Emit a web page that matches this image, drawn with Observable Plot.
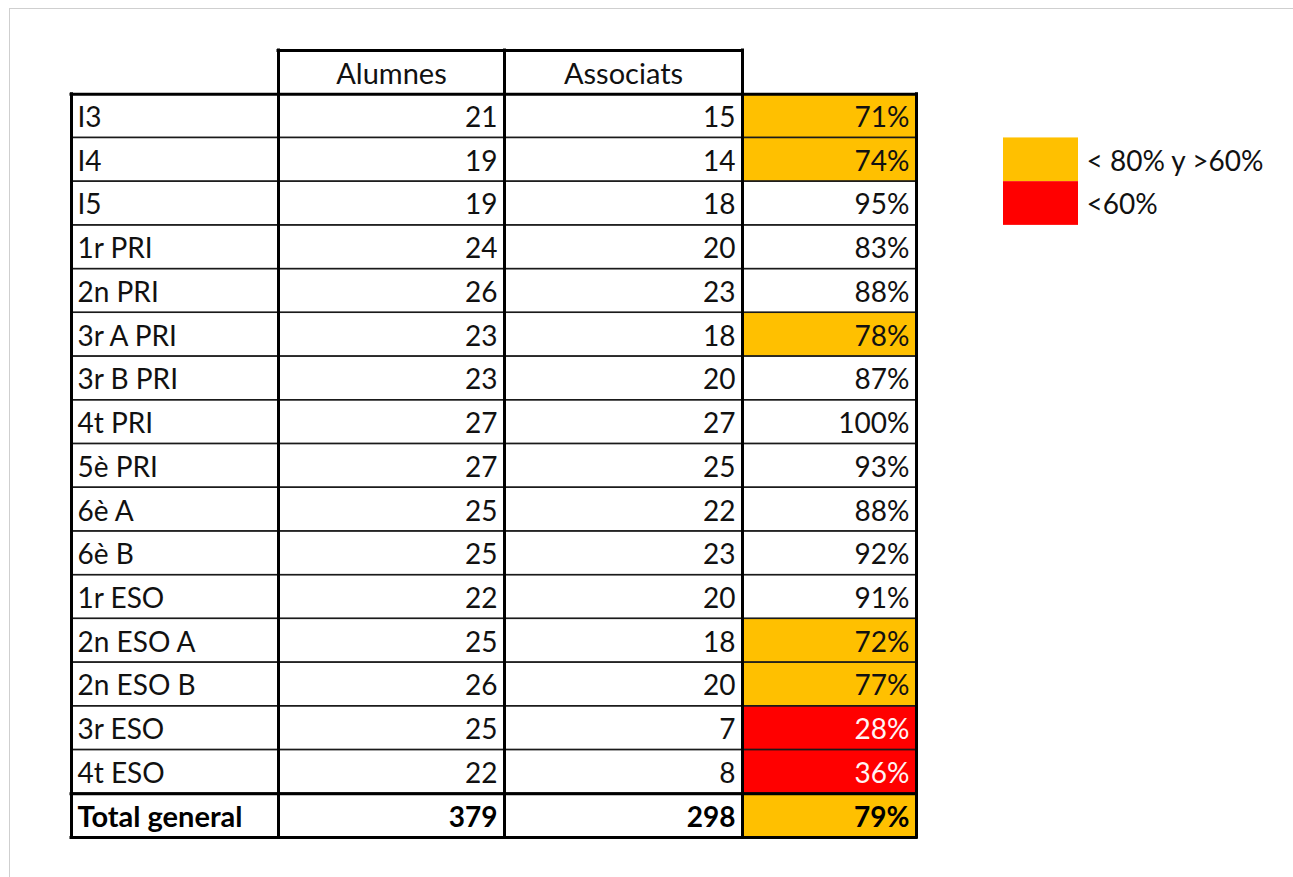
<!DOCTYPE html>
<html>
<head>
<meta charset="utf-8">
<script src="https://cdn.jsdelivr.net/npm/d3@7"></script>
<script src="https://cdn.jsdelivr.net/npm/@observablehq/plot@0.6"></script>
<style>
  html, body { margin: 0; padding: 0; background: #fff; }
  #wrap { position: relative; width: 1293px; height: 877px; overflow: hidden; }
  #frame { position: absolute; left: 9px; top: 8px; right: -2px; bottom: -2px; border-top: 1px solid #cfcfcf; border-left: 1px solid #cfcfcf; }
  #chart { position: absolute; left: 0; top: 0; }
</style>
</head>
<body>
<div id="wrap"><div id="frame"></div><div id="chart"></div></div>
<script>
// ---- data ----
const rowLabels = ["I3","I4","I5","1r PRI","2n PRI","3r A PRI","3r B PRI","4t PRI","5è PRI","6è A","6è B","1r ESO","2n ESO A","2n ESO B","3r ESO","4t ESO"];
const alumnes   = [21,19,19,24,26,23,23,27,27,25,25,22,25,26,25,22];
const associats = [15,14,18,20,23,18,20,27,25,22,23,20,18,20,7,8];
const percents  = [71,74,95,83,88,78,87,100,93,88,92,91,72,77,28,36];
const totalLabel = "Total general";
const totalAlumnes = 379;
const totalAssociats = 298;
const totalPercent = 79;
const headers = ["", "Alumnes", "Associats", ""];
const legendLabels = ["< 80% y >60%", "<60%"];

// ---- styles / layout ----
const ORANGE = "#FFC000", RED = "#FF0000";
const colorFor = p => p < 60 ? RED : p < 80 ? ORANGE : null;
const legendColors = [ORANGE, RED];
const colWidths = [207, 226, 238, 174];
const colStart = colWidths.map((w, i) => d3.sum(colWidths.slice(0, i)));
const colEnd = colWidths.map((w, i) => colStart[i] + w);
const tableW = d3.sum(colWidths);
const nRows = rowLabels.length + 2; // header + rows + total
const FONT = "Lato, 'Open Sans', sans-serif";
const FS = 28;

// ---- table records ----
const body = rowLabels.map((label, i) => ({label, a: alumnes[i], s: associats[i], p: percents[i], idx: i + 1}));
const total = {label: totalLabel, a: totalAlumnes, s: totalAssociats, p: totalPercent, idx: nRows - 1};
const allRows = [...body, total];

const cells = [];
for (const r of allRows) for (let c = 0; c < 4; c++) cells.push({c, idx: r.idx, p: r.p});
for (let c = 1; c <= 2; c++) cells.push({c, idx: 0, p: null});
const colored = cells.filter(d => d.c === 3 && d.p != null && colorFor(d.p));

const vRules = [];
[0, 1, 2, 3, 4].forEach(k => vRules.push({x: k === 4 ? tableW : colStart[k], y1: 1, y2: nRows}));
[1, 2, 3].forEach(k => vRules.push({x: colStart[k], y1: 0, y2: 1}));
const hRules = [
  {y: 0, x1: colStart[1], x2: colEnd[2]},
  {y: 1, x1: 0, x2: tableW},
  {y: nRows - 1, x1: 0, x2: tableW},
  {y: nRows, x1: 0, x2: tableW}
];

const legend = legendLabels.map((label, i) => ({label, color: legendColors[i], idx: 2 + i}));
const LG_X1 = tableW + 87, LG_X2 = tableW + 162, LG_TX = tableW + 170;

const textCommon = {fontSize: FS, fontFamily: FONT, lineAnchor: "middle", dy: 2};

const plot = Plot.plot({
  width: 1293,
  height: 877,
  margin: 0,
  x: {type: "linear", domain: [0, 1222], range: [71, 1293], axis: null},
  y: {type: "linear", domain: [0, nRows], range: [50, 50 + nRows * 43.72], axis: null},
  style: {background: "transparent"},
  marks: [
    Plot.rect(colored, {x1: d => colStart[d.c], x2: d => colEnd[d.c], y1: "idx", y2: d => d.idx + 1, fill: d => colorFor(d.p)}),
    Plot.rect(legend, {x1: LG_X1, x2: LG_X2, y1: "idx", y2: d => d.idx + 1, fill: "color"}),
    Plot.rect(cells, {x1: d => colStart[d.c], x2: d => colEnd[d.c], y1: "idx", y2: d => d.idx + 1, fill: "none", stroke: "#1a1a1a", strokeWidth: 1.4}),
    Plot.ruleX(vRules, {x: "x", y1: "y1", y2: "y2", stroke: "#000", strokeWidth: 3, strokeLinecap: "square"}),
    Plot.ruleY(hRules, {y: "y", x1: "x1", x2: "x2", stroke: "#000", strokeWidth: 3, strokeLinecap: "square"}),
    // header
    Plot.text([1, 2], {x: c => (colStart[c] + colEnd[c]) / 2, y: 0.5, text: c => headers[c], fill: "#111", ...textCommon, fontSize: 29}),
    // body rows
    Plot.text(body, {x: 0, y: d => d.idx + 0.5, text: "label", textAnchor: "start", dx: 6, fill: "#111", ...textCommon}),
    Plot.text(body, {x: colEnd[1], y: d => d.idx + 0.5, text: d => String(d.a), textAnchor: "end", dx: -7, fill: "#111", ...textCommon}),
    Plot.text(body, {x: colEnd[2], y: d => d.idx + 0.5, text: d => String(d.s), textAnchor: "end", dx: -7, fill: "#111", ...textCommon}),
    Plot.text(body, {x: colEnd[3], y: d => d.idx + 0.5, text: d => d.p + "%", textAnchor: "end", dx: -7, fill: d => d.p < 60 ? "#fff4f4" : "#111", ...textCommon}),
    // total row
    Plot.text([total], {x: 0, y: d => d.idx + 0.5, text: "label", textAnchor: "start", dx: 6, fontWeight: "bold", fill: "#000", ...textCommon, fontSize: 29}),
    Plot.text([total], {x: colEnd[1], y: d => d.idx + 0.5, text: d => String(d.a), textAnchor: "end", dx: -7, fontWeight: "bold", fill: "#000", ...textCommon}),
    Plot.text([total], {x: colEnd[2], y: d => d.idx + 0.5, text: d => String(d.s), textAnchor: "end", dx: -7, fontWeight: "bold", fill: "#000", ...textCommon}),
    Plot.text([total], {x: colEnd[3], y: d => d.idx + 0.5, text: d => d.p + "%", textAnchor: "end", dx: -7, fontWeight: "bold", fill: "#000", ...textCommon}),
    // legend labels
    Plot.text(legend, {x: LG_TX, y: d => d.idx + 0.5, text: "label", textAnchor: "start", fill: "#111", ...textCommon})
  ]
});
document.getElementById("chart").appendChild(plot);
</script>
</body>
</html>
